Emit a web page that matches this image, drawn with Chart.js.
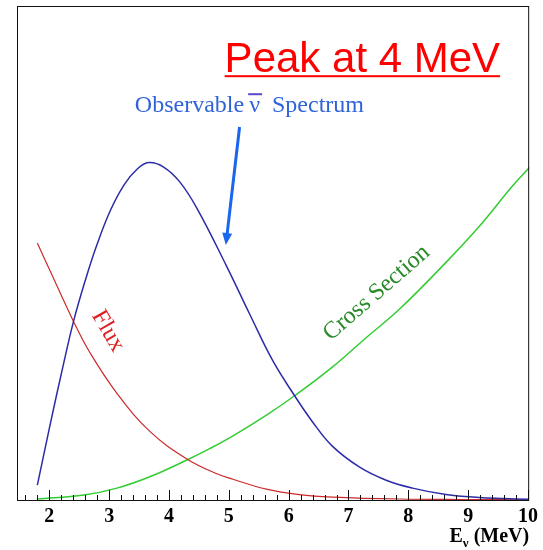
<!DOCTYPE html>
<html>
<head>
<meta charset="utf-8">
<script src="https://cdn.jsdelivr.net/npm/chart.js@4.4.1/dist/chart.umd.min.js"></script>
<style>
  html, body { margin: 0; padding: 0; background: #fff; }
  #wrap { width: 543px; height: 550px; }
</style>
</head>
<body>
<div id="wrap"><canvas id="chart" width="543" height="550"></canvas></div>
<script>
// values (arbitrary units, top of frame = 100)
const spectrumE = [1.80, 2.02, 2.22, 2.41, 2.61, 2.80, 3.02, 3.25, 3.47, 3.66, 3.91, 4.18, 4.47, 4.96, 5.35, 5.73, 6.10, 6.40, 6.73, 7.18, 7.63, 8.07, 8.63, 9.18, 9.60, 10.0];
const spectrumY = [3.0, 15.6, 26.6, 36.4, 44.8, 51.8, 58.6, 63.8, 67.0, 68.3, 67.4, 64.4, 59.0, 47.4, 37.6, 28.3, 21.1, 15.8, 10.9, 6.7, 4.0, 2.4, 1.1, 0.5, 0.3, 0.15];

const fluxE = [1.80, 2.02, 2.41, 2.68, 3.13, 3.68, 4.30, 4.80, 5.07, 5.63, 6.18, 6.73, 7.85, 9.00, 10.0];
const fluxY = [52.0, 46.2, 36.0, 29.8, 21.6, 13.9, 8.3, 5.3, 4.2, 2.2, 1.1, 0.6, 0.2, 0.1, 0.05];

const crossE = [1.80, 2.58, 3.13, 3.68, 4.30, 4.68, 5.07, 5.63, 6.10, 6.73, 7.30, 7.85, 8.63, 9.18, 9.73, 10.03];
const crossY = [0.2, 1.0, 2.4, 4.7, 8.1, 10.4, 13.0, 17.2, 21.1, 26.9, 32.9, 38.6, 48.1, 55.3, 63.4, 67.4];

const xTicks = [2, 3, 4, 5, 6, 7, 8, 9, 10];

const serif = '"Liberation Serif", "Times New Roman", serif';
const sans = '"Liberation Sans", Arial, sans-serif';

const toPoints = (xs, ys) => xs.map((x, i) => ({ x, y: ys[i] }));

// frame box + inward tick marks along the bottom
const framePlugin = {
    id: 'frame',
    afterDraw(chart) {
        const { ctx, chartArea: a, scales: { x } } = chart;
        ctx.save();
        ctx.strokeStyle = '#111';
        ctx.lineWidth = 1;
        ctx.strokeRect(a.left + 0.5, a.top + 0.5, a.right - a.left - 1, a.bottom - a.top);
        for (let v = 16; v <= 100; v += 2) {
            const px = Math.round(x.getPixelForValue(v / 10)) + 0.5;
            const len = v % 10 === 0 ? 10 : 5;
            ctx.beginPath();
            ctx.moveTo(px, a.bottom);
            ctx.lineTo(px, a.bottom - len);
            ctx.stroke();
        }
        // axis title E_nu (MeV), right aligned under the axis
        ctx.fillStyle = '#000';
        ctx.textBaseline = 'alphabetic';
        const big = 'bold 20px ' + serif, small = 'bold 13px ' + serif;
        ctx.font = big;
        const wE = ctx.measureText('E').width, wRest = ctx.measureText(' (MeV)').width;
        ctx.font = small;
        const wNu = ctx.measureText('ν').width;
        let tx = a.right - (wE + wNu + wRest);
        const base = a.bottom + 42;
        ctx.font = big;
        ctx.fillText('E', tx, base);
        ctx.font = small;
        ctx.fillText('ν', tx + wE, base + 5);
        ctx.font = big;
        ctx.fillText(' (MeV)', tx + wE + wNu, base);
        ctx.restore();
    }
};

// text labels and arrow, placed in data units
const notesPlugin = {
    id: 'notes',
    afterDatasetsDraw(chart) {
        const { ctx, scales: { x, y } } = chart;
        const X = v => x.getPixelForValue(v), Y = v => y.getPixelForValue(v);
        ctx.save();

        // Peak at 4 MeV
        ctx.font = '42px ' + sans;
        ctx.fillStyle = '#ff0000';
        ctx.textBaseline = 'alphabetic';
        const peak = 'Peak at 4 MeV';
        const px0 = X(4.93), py0 = Y(86.6);
        ctx.fillText(peak, px0, py0);
        const pw = ctx.measureText(peak).width;
        ctx.fillRect(px0, py0 + 3, pw, 2);

        // Observable anti-nu Spectrum
        ctx.font = '24px ' + serif;
        ctx.fillStyle = '#3063d8';
        let ox = X(3.43);
        const oy = Y(78.5);
        ctx.fillText('Observable', ox, oy);
        ox += ctx.measureText('Observable').width + 5;
        ctx.fillText('ν', ox, oy);
        const nuW = ctx.measureText('ν').width;
        ctx.fillStyle = '#5a48c8';
        ctx.fillRect(ox - 1, oy - 19, nuW + 3, 2);
        ctx.fillStyle = '#3063d8';
        ox += nuW + 12;
        ctx.fillText('Spectrum', ox, oy);

        // arrow to the curve
        const ax0 = X(5.18), ay0 = Y(75.5), ax1 = X(4.95), ay1 = Y(51.6);
        const ang = Math.atan2(ay1 - ay0, ax1 - ax0);
        ctx.strokeStyle = '#1a66ee';
        ctx.fillStyle = '#1a66ee';
        ctx.lineWidth = 3;
        ctx.beginPath();
        ctx.moveTo(ax0, ay0);
        ctx.lineTo(ax1 - 9 * Math.cos(ang), ay1 - 9 * Math.sin(ang));
        ctx.stroke();
        ctx.beginPath();
        ctx.moveTo(ax1, ay1);
        ctx.lineTo(ax1 - 12 * Math.cos(ang) + 5 * Math.sin(ang), ay1 - 12 * Math.sin(ang) - 5 * Math.cos(ang));
        ctx.lineTo(ax1 - 12 * Math.cos(ang) - 5 * Math.sin(ang), ay1 - 12 * Math.sin(ang) + 5 * Math.cos(ang));
        ctx.closePath();
        ctx.fill();

        // rotated curve labels
        const rotText = (txt, cx, cy, deg, color) => {
            ctx.save();
            ctx.translate(cx, cy);
            ctx.rotate(deg * Math.PI / 180);
            ctx.font = '24px ' + serif;
            ctx.fillStyle = color;
            ctx.textAlign = 'center';
            ctx.textBaseline = 'middle';
            ctx.fillText(txt, 0, 0);
            ctx.restore();
        };
        rotText('Flux', X(2.98), Y(34.2), 60, '#dd2020');
        rotText('Cross Section', X(7.47), Y(41.9), -41, '#2a8a2a');

        ctx.restore();
    }
};

new Chart(document.getElementById('chart'), {
    type: 'line',
    data: {
        datasets: [
            {
                label: 'Spectrum',
                data: toPoints(spectrumE, spectrumY),
                borderColor: '#2c2ca8',
                borderWidth: 1.5,
            },
            {
                label: 'Flux',
                data: toPoints(fluxE, fluxY),
                borderColor: '#cc2a2a',
                borderWidth: 1.2,
            },
            {
                label: 'Cross Section',
                data: toPoints(crossE, crossY),
                borderColor: '#33cc33',
                borderWidth: 1.5,
            },
        ].map(ds => ({ ...ds, pointRadius: 0, fill: false, tension: 0.4 })),
    },
    options: {
        responsive: false,
        animation: false,
        devicePixelRatio: 1,
        layout: { padding: { left: 17, right: 12, top: 6, bottom: 16 } },
        plugins: { legend: { display: false }, tooltip: { enabled: false } },
        scales: {
            x: {
                type: 'linear',
                min: 1.46,
                max: 10.02,
                afterBuildTicks: axis => { axis.ticks = xTicks.map(v => ({ value: v })); },
                grid: { display: false, drawTicks: false },
                border: { display: false },
                ticks: {
                    autoSkip: false,
                    maxRotation: 0,
                    padding: 5,
                    color: '#000',
                    font: { family: serif, size: 20, weight: 'bold' },
                },
            },
            y: { display: false, min: 0, max: 100 },
        },
    },
    plugins: [framePlugin, notesPlugin],
});
</script>
</body>
</html>
